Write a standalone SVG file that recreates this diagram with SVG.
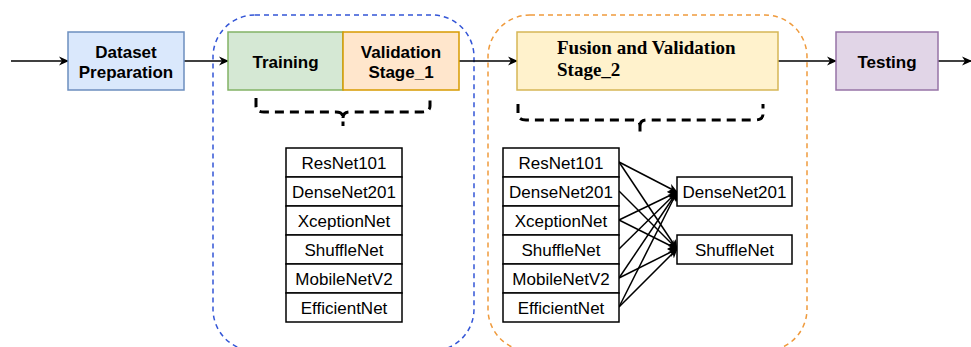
<svg xmlns="http://www.w3.org/2000/svg" width="971" height="347" viewBox="0 0 971 347">
  <style>
    .lbl { font-family: "Liberation Sans", Arial, sans-serif; font-size: 17px; fill: #000; text-anchor: middle; }
    .b { font-weight: bold; }
    .serif { font-family: "Liberation Serif", "Times New Roman", serif; font-weight: bold; font-size: 19px; fill: #000; }
    .cell { fill: #fff; stroke: #000; stroke-width: 1.5; }
    .edge { fill: none; stroke: #000; stroke-width: 1.5; }
    .brace { fill: none; stroke: #000; stroke-width: 3; stroke-dasharray: 9 6; }
  </style>
  <defs>
    <marker id="arrow" viewBox="0 0 10 10" refX="9" refY="5" markerWidth="10" markerHeight="10" markerUnits="userSpaceOnUse" orient="auto">
      <path d="M0,0.5 L10,5 L0,9.5 L3,5 Z" fill="#000"/>
    </marker>
  </defs>
  <rect width="971" height="347" fill="#fff"/>

  <!-- stage containers -->
  <g id="stage1-group">
    <rect x="213" y="15" width="261" height="336" rx="42" fill="none" stroke="#3355d6" stroke-width="1.5" stroke-dasharray="5 4"/>
  </g>
  <g id="stage2-group">
    <rect x="488" y="15" width="319" height="336" rx="42" fill="none" stroke="#ef9a3c" stroke-width="1.5" stroke-dasharray="5 4"/>
  </g>

  <!-- connectors -->
  <g id="connectors">
    <line class="edge" x1="11" y1="61" x2="68" y2="61" marker-end="url(#arrow)"/>
    <line class="edge" x1="184" y1="61" x2="228" y2="61" marker-end="url(#arrow)"/>
    <line class="edge" x1="459" y1="61" x2="517" y2="61" marker-end="url(#arrow)"/>
    <line class="edge" x1="778" y1="61" x2="836" y2="61" marker-end="url(#arrow)"/>
    <line class="edge" x1="938" y1="61" x2="971" y2="61" marker-end="url(#arrow)"/>
    <!-- model fan-in -->
    <line class="edge" x1="619" y1="162" x2="677" y2="192" marker-end="url(#arrow)"/>
    <line class="edge" x1="619" y1="162" x2="677" y2="249" marker-end="url(#arrow)"/>
    <line class="edge" x1="619" y1="191" x2="677" y2="249" marker-end="url(#arrow)"/>
    <line class="edge" x1="619" y1="220" x2="677" y2="192" marker-end="url(#arrow)"/>
    <line class="edge" x1="619" y1="220" x2="677" y2="249" marker-end="url(#arrow)"/>
    <line class="edge" x1="619" y1="249" x2="677" y2="192" marker-end="url(#arrow)"/>
    <line class="edge" x1="619" y1="278" x2="677" y2="192" marker-end="url(#arrow)"/>
    <line class="edge" x1="619" y1="278" x2="677" y2="249" marker-end="url(#arrow)"/>
    <line class="edge" x1="619" y1="307" x2="677" y2="192" marker-end="url(#arrow)"/>
    <line class="edge" x1="619" y1="307" x2="677" y2="249" marker-end="url(#arrow)"/>
  </g>

  <g id="dataset">
    <rect x="68" y="32" width="116" height="58" fill="#dae8fc" stroke="#6c8ebf" stroke-width="1.5"/>
    <text class="lbl b" x="126" y="58">Dataset</text>
    <text class="lbl b" x="126" y="78">Preparation</text>
  </g>
  <g id="training">
    <rect x="228" y="32" width="115" height="58" fill="#d5e8d4" stroke="#82b366" stroke-width="1.5"/>
    <text class="lbl b" x="285.5" y="68">Training</text>
  </g>
  <g id="validation1">
    <rect x="343" y="32" width="116" height="58" fill="#ffe6cc" stroke="#d79b00" stroke-width="1.5"/>
    <text class="lbl b" x="401" y="58">Validation</text>
    <text class="lbl b" x="401" y="78">Stage_1</text>
  </g>
  <g id="fusion">
    <rect x="517" y="32" width="261" height="58" fill="#fff2cc" stroke="#d6b656" stroke-width="1.5"/>
    <text class="serif" x="557" y="54">Fusion and Validation</text>
    <text class="serif" x="557" y="76">Stage_2</text>
  </g>
  <g id="testing">
    <rect x="836" y="32" width="102" height="58" fill="#e1d5e7" stroke="#9673a6" stroke-width="1.5"/>
    <text class="lbl b" x="887" y="68">Testing</text>
  </g>

  <!-- braces -->
  <g id="brace1">
    <path class="brace" d="M256,98 L256,106 Q256,112 264,112 L336,112 Q343,112 343,118 L343,126 M343,118 Q343,112 350,112 L422,112 Q430,112 430,106 L430,98"/>
  </g>
  <g id="brace2">
    <path class="brace" d="M518,104 L518,114 Q518,120 526,120 L633,120 Q640,120 640,126 L640,132 M640,126 Q640,120 647,120 L755,120 Q763,120 763,114 L763,104"/>
  </g>

  <g id="models1">
    <rect class="cell" x="286" y="148" width="116" height="29"/>
    <rect class="cell" x="286" y="177" width="116" height="29"/>
    <rect class="cell" x="286" y="206" width="116" height="29"/>
    <rect class="cell" x="286" y="235" width="116" height="29"/>
    <rect class="cell" x="286" y="264" width="116" height="29"/>
    <rect class="cell" x="286" y="293" width="116" height="29"/>
    <text class="lbl" x="344" y="168.5">ResNet101</text>
    <text class="lbl" x="344" y="197.5">DenseNet201</text>
    <text class="lbl" x="344" y="226.5">XceptionNet</text>
    <text class="lbl" x="344" y="255.5">ShuffleNet</text>
    <text class="lbl" x="344" y="284.5">MobileNetV2</text>
    <text class="lbl" x="344" y="313.5">EfficientNet</text>
  </g>
  <g id="models2">
    <rect class="cell" x="503" y="148" width="116" height="29"/>
    <rect class="cell" x="503" y="177" width="116" height="29"/>
    <rect class="cell" x="503" y="206" width="116" height="29"/>
    <rect class="cell" x="503" y="235" width="116" height="29"/>
    <rect class="cell" x="503" y="264" width="116" height="29"/>
    <rect class="cell" x="503" y="293" width="116" height="29"/>
    <text class="lbl" x="561" y="168.5">ResNet101</text>
    <text class="lbl" x="561" y="197.5">DenseNet201</text>
    <text class="lbl" x="561" y="226.5">XceptionNet</text>
    <text class="lbl" x="561" y="255.5">ShuffleNet</text>
    <text class="lbl" x="561" y="284.5">MobileNetV2</text>
    <text class="lbl" x="561" y="313.5">EfficientNet</text>
  </g>
  <g id="fused-densenet">
    <rect class="cell" x="677" y="177" width="115" height="29"/>
    <text class="lbl" x="734.5" y="197.5">DenseNet201</text>
  </g>
  <g id="fused-shufflenet">
    <rect class="cell" x="677" y="235" width="115" height="29"/>
    <text class="lbl" x="734.5" y="255.5">ShuffleNet</text>
  </g>
</svg>
